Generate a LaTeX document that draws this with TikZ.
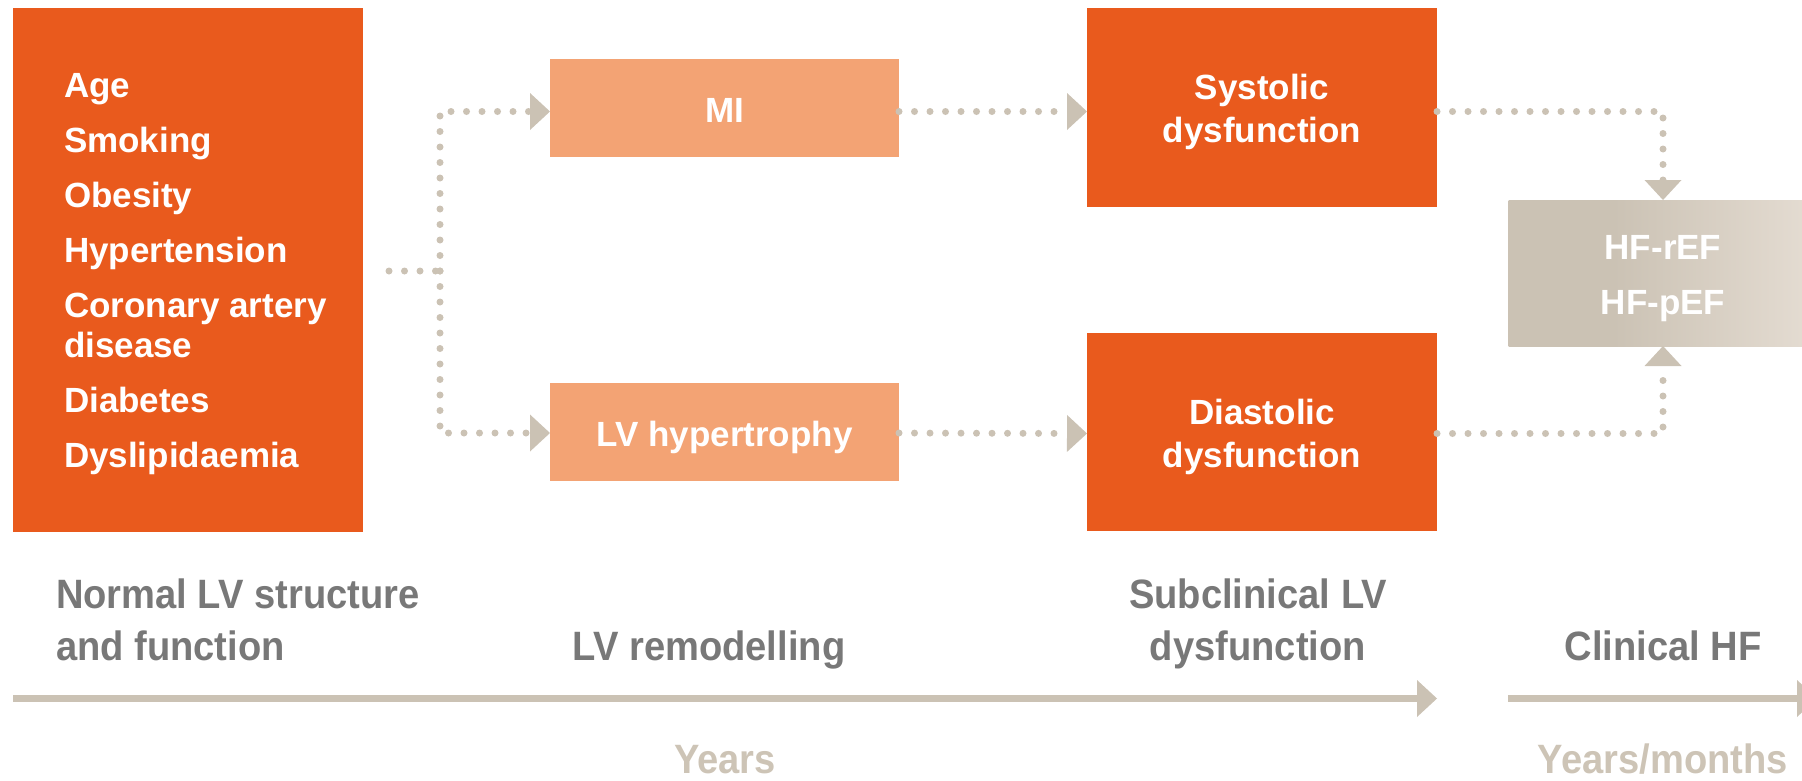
\documentclass[tikz,border=0pt]{standalone}
\usepackage{fontspec}
\setmainfont{Liberation Sans}
\newfontfamily\condfont{Liberation Sans}[FakeStretch=0.93]
\usetikzlibrary{arrows.meta}

\definecolor{rust}{HTML}{E95A1D}
\definecolor{peach}{HTML}{F3A374}
\definecolor{taupe}{HTML}{CBC2B4}
\definecolor{taupelight}{HTML}{E5DDD3}
\definecolor{labelgray}{HTML}{787878}
\definecolor{timegray}{HTML}{CDC4B6}

% flat on the left, fading towards the right edge
\pgfdeclarehorizontalshading{hffade}{100bp}{color(0bp)=(taupe); color(25bp)=(taupe); color(42bp)=(taupe); color(75bp)=(taupelight); color(100bp)=(taupelight)}

\newcommand\bxfont{\bfseries\fontsize{35}{40}\selectfont}
\newcommand\lblfont{\condfont\bfseries\fontsize{41}{52}\selectfont}
% invisible rule that sets the height of a first line
\newcommand\topstrut[1]{\rule{0pt}{#1}}

\begin{document}
\begin{tikzpicture}[x=1pt,y=-1pt,
  every node/.style={inner sep=0pt, outer sep=0pt},
  stagebox/.style={rectangle, fill=#1, text=white, font=\bxfont, align=center},
  oneline/.style={text height=30pt, text depth=1pt},
  link/.style={draw=taupe, line width=7pt, line cap=round, dash pattern=on 0pt off 15.5pt},
  flow/.style={link, -{Triangle[length=20pt,width=37pt,line width=0pt]}},
  axis/.style={draw=taupe, line width=7pt, -{Triangle[length=20pt,width=37pt,line width=0pt]}},
  phaselabel/.style={font=\lblfont, text=labelgray},
  durlabel/.style={font=\lblfont, text=timegray}]

\useasboundingbox (0,0) rectangle (1802,780);
\clip (0,0) rectangle (1802,780);

% risk factors
\node[stagebox=rust, minimum width=350pt, minimum height=524pt, anchor=north west] (risk) at (13,8) {};
\node[font=\bxfont, text=white, align=left, anchor=west] (risklist) at ([xshift=51pt]risk.west)
  {\topstrut{32pt}Age\\[15pt]Smoking\\[15pt]Obesity\\[15pt]Hypertension\\[15pt]Coronary artery\\disease\\[15pt]Diabetes\\[15pt]Dyslipidaemia};

% remodelling
\node[stagebox=peach, oneline, minimum width=349pt, minimum height=98pt] (mi) at (724.5,107.5) {MI};
\node[stagebox=peach, oneline, minimum width=349pt, minimum height=98pt] (lvh) at (724.5,431.5) {LV hypertrophy};

% subclinical dysfunction
\node[stagebox=rust, minimum width=350pt, minimum height=199pt] (sys) at (1262,107.5) {\topstrut{35pt}Systolic\\[3pt]dysfunction};
\node[stagebox=rust, minimum width=350pt, minimum height=198pt] (dia) at (1262,432) {\topstrut{35pt}Diastolic\\[3pt]dysfunction};

% clinical heart failure
\node[stagebox=taupe, shading=hffade, minimum width=309pt, minimum height=146pt]
  (hf) at (1663,273) {\topstrut{36pt}HF-rEF\\[15pt]HF-pEF};

% dotted connectors (the upper track runs a little below the box centres)
\coordinate (split) at (440,271);
\draw[link] ([xshift=26pt,yshift=-1pt]risk.east) -- (split);
\draw[flow] (split) |- ([yshift=-4pt]mi.west);
\draw[flow] (split) |- ([yshift=-1.5pt]lvh.west);
\draw[flow] ([yshift=-4pt]mi.east) -- ([yshift=-4pt]sys.west);
\draw[flow] ([yshift=-1.5pt]lvh.east) -- ([yshift=-1.5pt]dia.west);
\draw[flow] ([yshift=-4pt]sys.east) -| (hf.north);
\draw[flow] ([yshift=-1.5pt]dia.east) -| (hf.south);

% time axis
\coordinate (axAstart) at (13,698.5);
\coordinate (axAend) at (1437,698.5);
\coordinate (axBstart) at (1508,698.5);
\coordinate (axBend) at (1817,698.5);
\draw[axis] (axAstart) -- (axAend);
\draw[axis] (axBstart) -- (axBend);

% phase labels (base = last line)
\node[phaselabel, align=left, anchor=base west] (phase1) at (56,660) {Normal LV structure\\and function};
\node[phaselabel, anchor=base] (phase2) at (709,660) {LV remodelling};
\node[phaselabel, align=center, anchor=base] (phase3) at (1258,660) {Subclinical LV\\dysfunction};
\node[phaselabel, anchor=base] (phase4) at (1663,660) {Clinical HF};

% durations
\node[durlabel, anchor=base] (dur1) at (725,773) {Years};
\node[durlabel, anchor=base] (dur2) at (1663,773) {Years/months};
\end{tikzpicture}
\end{document}
